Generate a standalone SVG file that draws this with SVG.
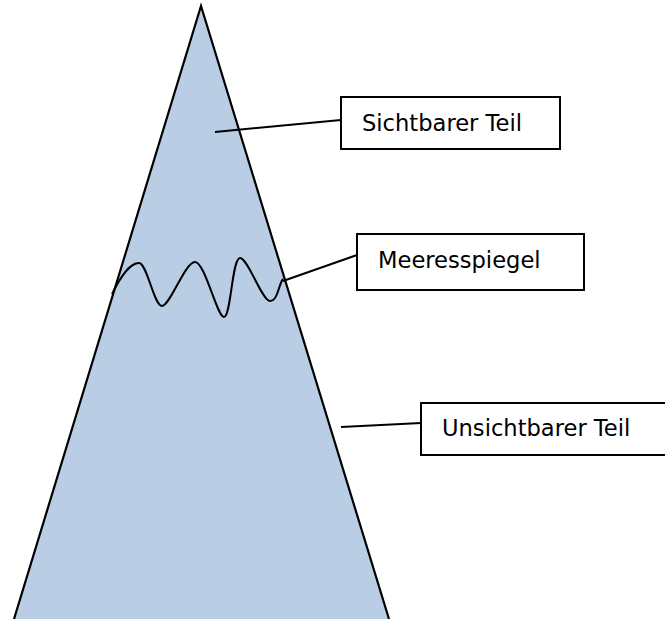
<svg xmlns="http://www.w3.org/2000/svg" width="665" height="619" viewBox="0 0 665 619">
<style>
.side{fill:none;stroke:#000;stroke-width:2.2;stroke-linejoin:miter}
.box{fill:#fff;stroke:#000;stroke-width:2}
.lbl{font-family:"DejaVu Sans","Verdana",sans-serif;font-size:22.6px;fill:#000}
.conn{fill:none;stroke:#000;stroke-width:2}
</style>
<rect width="665" height="619" fill="#fff"/>
<g id="iceberg">
<polygon points="201,6 389,619 14,619" fill="#b9cde5"/>
<polyline class="side" points="14,619 201,6 389,619"/>
<path class="conn" d="M 112 294 C 120 278, 129 263, 139 263 C 147 263, 154 306, 162 306 C 170 306, 185 262, 195 262 C 205 262, 217 317, 224 317 C 231 317, 232 258, 240 258 C 248 258, 262 301, 270 301 C 278 301, 279 283, 283 279"/>
</g>
<g id="connectors">
<line class="conn" x1="215" y1="132" x2="341" y2="120"/>
<line class="conn" x1="283" y1="281" x2="357" y2="255"/>
<line class="conn" x1="341" y1="427" x2="421" y2="423"/>
</g>
<g id="sichtbarer">
<rect class="box" x="341" y="97" width="219" height="52"/>
<text class="lbl" x="362" y="131">Sichtbarer Teil</text>
</g>
<g id="meeresspiegel">
<rect class="box" x="357" y="234" width="227" height="56"/>
<text class="lbl" x="378" y="268">Meeresspiegel</text>
</g>
<g id="unsichtbarer">
<rect class="box" x="421" y="403" width="250" height="52"/>
<text class="lbl" x="442" y="436">Unsichtbarer Teil</text>
</g>
</svg>
